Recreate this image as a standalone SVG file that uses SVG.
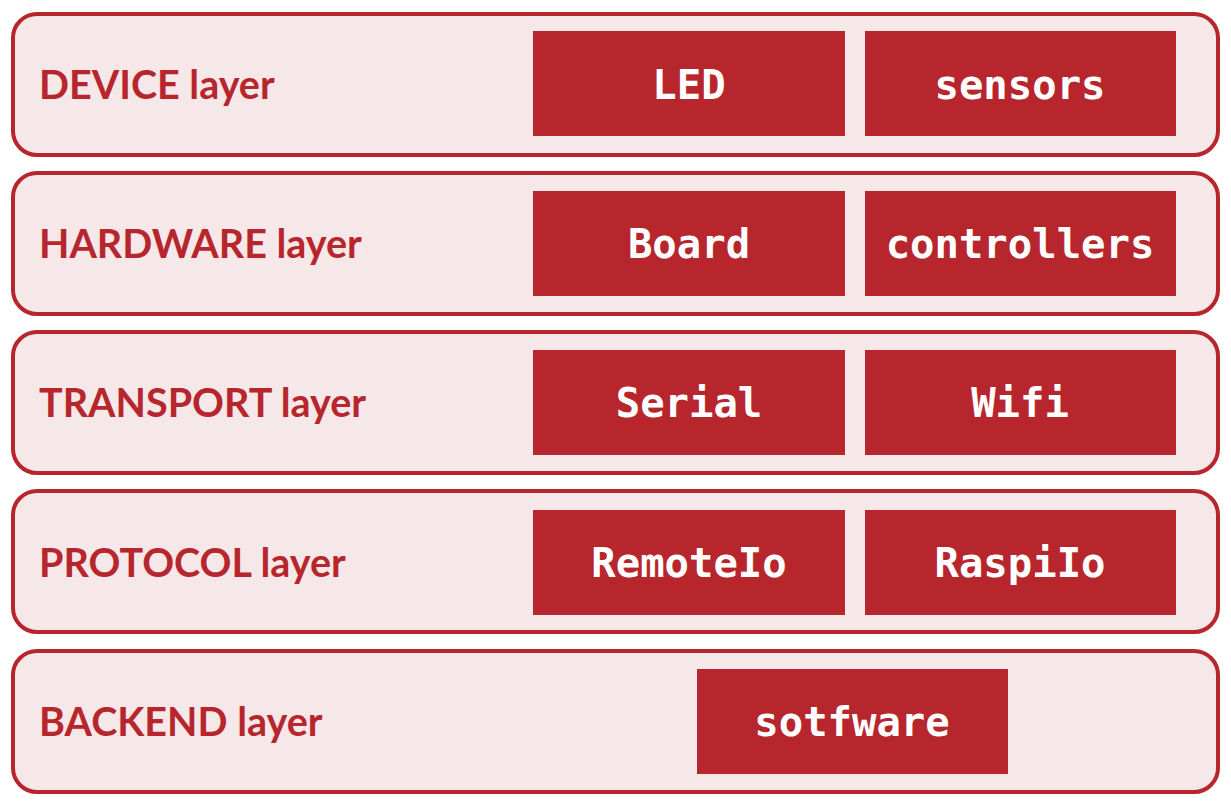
<svg xmlns="http://www.w3.org/2000/svg" width="1231" height="806" viewBox="0 0 1231 806">
  <style>
    .layer { fill: #F6E8E9; stroke: #B7262D; stroke-width: 4; }
    .box { fill: #B7262D; }
    .label { font-family: Lato, "Open Sans", "Liberation Sans", sans-serif; font-weight: bold; font-size: 39.5px; fill: #B7262D; }
    .item { font-family: "DejaVu Sans Mono", "Liberation Mono", monospace; font-weight: bold; font-size: 40.6px; fill: #FFFFFF; text-anchor: middle; }
  </style>
  <rect width="1231" height="806" fill="#FFFFFF"/>

  <g id="device-layer">
    <rect class="layer" x="13" y="14" width="1205" height="141" rx="24"/>
    <text class="label" x="39" y="99">DEVICE layer</text>
    <rect class="box" x="533" y="31" width="312" height="105"/>
    <text class="item" x="689" y="99">LED</text>
    <rect class="box" x="865" y="31" width="311" height="105"/>
    <text class="item" x="1020" y="99">sensors</text>
  </g>

  <g id="hardware-layer">
    <rect class="layer" x="13" y="173" width="1205" height="141" rx="24"/>
    <text class="label" x="39" y="258">HARDWARE layer</text>
    <rect class="box" x="533" y="191" width="312" height="105"/>
    <text class="item" x="689" y="258">Board</text>
    <rect class="box" x="865" y="191" width="311" height="105"/>
    <text class="item" x="1020" y="258">controllers</text>
  </g>

  <g id="transport-layer">
    <rect class="layer" x="13" y="332" width="1205" height="141" rx="24"/>
    <text class="label" x="39" y="417">TRANSPORT layer</text>
    <rect class="box" x="533" y="350" width="312" height="105"/>
    <text class="item" x="689" y="417">Serial</text>
    <rect class="box" x="865" y="350" width="311" height="105"/>
    <text class="item" x="1020" y="417">Wifi</text>
  </g>

  <g id="protocol-layer">
    <rect class="layer" x="13" y="491" width="1205" height="141" rx="24"/>
    <text class="label" x="39" y="577">PROTOCOL layer</text>
    <rect class="box" x="533" y="510" width="312" height="105"/>
    <text class="item" x="689" y="577">RemoteIo</text>
    <rect class="box" x="865" y="510" width="311" height="105"/>
    <text class="item" x="1020" y="577">RaspiIo</text>
  </g>

  <g id="backend-layer">
    <rect class="layer" x="13" y="651" width="1205" height="141" rx="24"/>
    <text class="label" x="39" y="736">BACKEND layer</text>
    <rect class="box" x="697" y="669" width="311" height="105"/>
    <text class="item" x="852" y="736">sotfware</text>
  </g>

  <g id="connectors"/>
</svg>
